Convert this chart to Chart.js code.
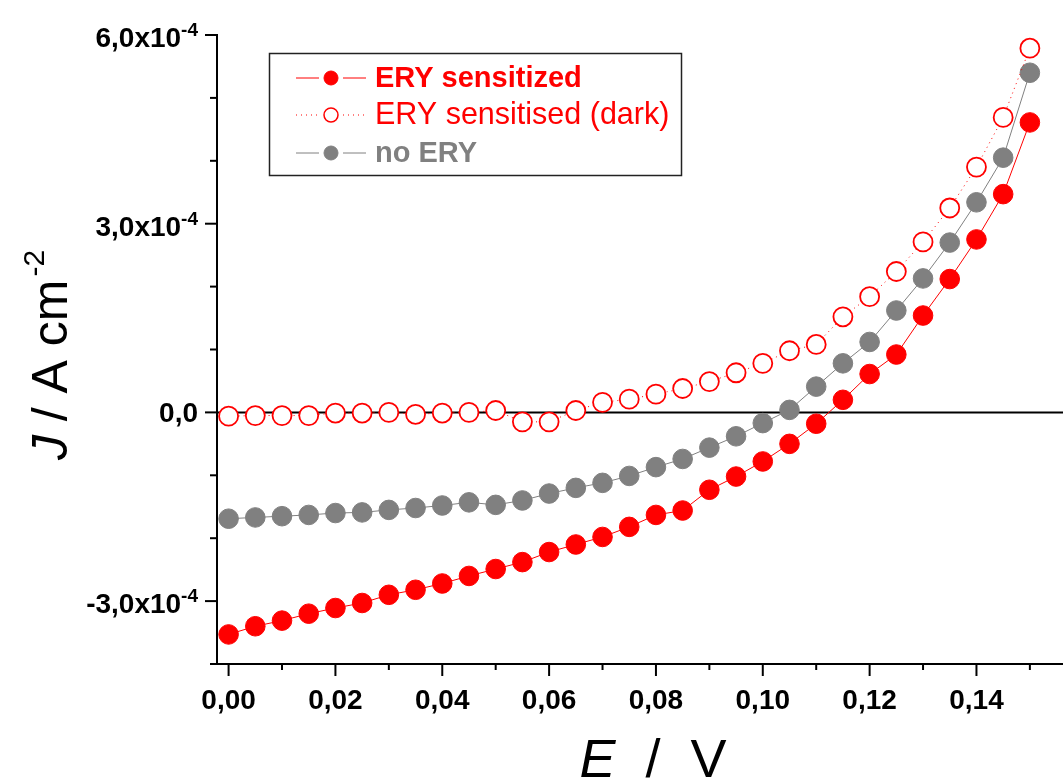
<!DOCTYPE html>
<html>
<head>
<meta charset="utf-8">
<script src="https://cdn.jsdelivr.net/npm/chart.js@4.4.0/dist/chart.umd.min.js"></script>
<style>
    html, body { margin: 0; padding: 0; background: #fff; }
    #wrap { width: 1063px; height: 779px; }
</style>
</head>
<body>
<div id="wrap"><canvas id="jvChart" width="1063" height="779"></canvas></div>
<script>
// E / V
const potentials = [
    0.000, 0.005, 0.010, 0.015, 0.020, 0.025, 0.030, 0.035, 0.040, 0.045,
    0.050, 0.055, 0.060, 0.065, 0.070, 0.075, 0.080, 0.085, 0.090, 0.095,
    0.100, 0.105, 0.110, 0.115, 0.120, 0.125, 0.130, 0.135, 0.140, 0.145, 0.150,
];

// J in units of 1e-4 A cm^-2
const sensitized = [
    -3.53, -3.40, -3.31, -3.20, -3.11, -3.03, -2.90, -2.82, -2.72, -2.60,
    -2.49, -2.38, -2.22, -2.10, -1.98, -1.82, -1.63, -1.56, -1.23, -1.02,
    -0.78, -0.50, -0.18, 0.20, 0.61, 0.92, 1.54, 2.12, 2.75, 3.47, 4.61,
];
const sensitisedDark = [
    -0.06, -0.05, -0.05, -0.05, -0.01, -0.01, 0.00, -0.03, -0.01, 0.00,
    0.03, -0.15, -0.15, 0.03, 0.16, 0.21, 0.29, 0.38, 0.49, 0.63,
    0.78, 0.98, 1.08, 1.52, 1.84, 2.24, 2.71, 3.25, 3.90, 4.69, 5.79,
];
const noEry = [
    -1.69, -1.67, -1.65, -1.63, -1.60, -1.59, -1.55, -1.52, -1.48, -1.43,
    -1.47, -1.40, -1.29, -1.20, -1.12, -1.01, -0.87, -0.74, -0.56, -0.38,
    -0.17, 0.04, 0.41, 0.78, 1.12, 1.62, 2.13, 2.70, 3.34, 4.05, 5.40,
];

const seriesLabels = ['ERY sensitized', 'ERY sensitised (dark)', 'no ERY'];

const xMajorTicks = [0.00, 0.02, 0.04, 0.06, 0.08, 0.10, 0.12, 0.14];
const xMinorTicks = [0.01, 0.03, 0.05, 0.07, 0.09, 0.11, 0.13, 0.15];
const yMajorTicks = [-3, 0, 3, 6];
const yMinorTicks = [-4, -2, -1, 1, 2, 4, 5];

const RED = '#ff0000';
const GRAY = '#808080';
const FONT = '"Liberation Sans", Arial, sans-serif';

function toPoints(values) {
    return values.map((v, i) => ({ x: potentials[i], y: v }));
}

// draws a run of text pieces (italic / superscript) one after another
function drawRich(ctx, parts, x, y, align) {
    let total = 0;
    parts.forEach((p) => {
        ctx.font = p.font;
        p.w = ctx.measureText(p.text).width;
        total += p.w + (p.gap || 0);
    });
    let cx = x;
    if (align === 'right') cx = x - total;
    if (align === 'center') cx = x - total / 2;
    ctx.textAlign = 'left';
    ctx.textBaseline = 'alphabetic';
    parts.forEach((p) => {
        cx += p.gap || 0;
        ctx.font = p.font;
        ctx.fillText(p.text, cx, y + (p.dy || 0));
        cx += p.w;
    });
}

function formatY(v) {
    const main = v.toFixed(1).replace('.', ',');
    if (v === 0) return [{ text: main, font: `bold 28px ${FONT}` }];
    return [
        { text: main + 'x10', font: `bold 28px ${FONT}` },
        { text: '-4', font: `bold 19px ${FONT}`, dy: -11 },
    ];
}

const zeroLine = {
    id: 'zeroLine',
    beforeDatasetsDraw(chart) {
        const { ctx, chartArea, scales } = chart;
        const py = scales.y.getPixelForValue(0);
        ctx.save();
        ctx.strokeStyle = '#000';
        ctx.lineWidth = 2;
        ctx.beginPath();
        ctx.moveTo(chartArea.left, py);
        ctx.lineTo(chartArea.right, py);
        ctx.stroke();
        ctx.restore();
    },
};

const axisDecor = {
    id: 'axisDecor',
    afterDraw(chart) {
        const { ctx, chartArea, scales } = chart;
        const xs = scales.x;
        const ys = scales.y;
        ctx.save();
        ctx.strokeStyle = '#000';
        ctx.fillStyle = '#000';
        ctx.lineWidth = 2;

        // tick marks
        const tick = (x1, y1, x2, y2) => {
            ctx.beginPath();
            ctx.moveTo(x1, y1);
            ctx.lineTo(x2, y2);
            ctx.stroke();
        };
        yMajorTicks.forEach((v) => {
            const py = ys.getPixelForValue(v);
            tick(chartArea.left - 12, py, chartArea.left, py);
        });
        yMinorTicks.forEach((v) => {
            const py = ys.getPixelForValue(v);
            tick(chartArea.left - 7, py, chartArea.left, py);
        });
        xMajorTicks.forEach((v) => {
            const px = xs.getPixelForValue(v);
            tick(px, chartArea.bottom, px, chartArea.bottom + 12);
        });
        xMinorTicks.forEach((v) => {
            const px = xs.getPixelForValue(v);
            tick(px, chartArea.bottom, px, chartArea.bottom + 6);
        });

        // tick labels
        yMajorTicks.forEach((v) => {
            const py = ys.getPixelForValue(v);
            const parts = formatY(v);
            drawRich(ctx, parts, 198, py + (parts.length > 1 ? 12 : 10), 'right');
        });
        xMajorTicks.forEach((v) => {
            const px = xs.getPixelForValue(v);
            drawRich(ctx, [{ text: v.toFixed(2).replace('.', ','), font: `bold 28px ${FONT}` }],
                px, chartArea.bottom + 45, 'center');
        });

        // axis titles
        drawRich(ctx, [
            { text: 'E', font: `italic 54px ${FONT}` },
            { text: '  /  V', font: `54px ${FONT}` },
        ], (chartArea.left + chartArea.right) / 2 + 13, 777, 'center');

        ctx.save();
        ctx.translate(67, 355);
        ctx.rotate(-Math.PI / 2);
        drawRich(ctx, [
            { text: 'J', font: `italic 50px ${FONT}` },
            { text: ' / A cm', font: `50px ${FONT}` },
            { text: '-2', font: `30px ${FONT}`, dy: -23, gap: 3 },
        ], 0, 0, 'center');
        ctx.restore();

        // legend
        const boxX = 269.5, boxY = 53.5, boxW = 412, boxH = 122;
        ctx.lineWidth = 1.5;
        ctx.strokeStyle = '#222';
        ctx.strokeRect(boxX, boxY, boxW, boxH);

        const rows = [
            { y: 78, color: RED, fill: RED, dash: [], weight: 'bold ', size: 29 },
            { y: 115, color: RED, fill: '#fff', dash: [1, 4], weight: '', size: 30.5 },
            { y: 153, color: GRAY, fill: GRAY, dash: [], weight: 'bold ', size: 29 },
        ];
        rows.forEach((r, i) => {
            ctx.strokeStyle = r.color;
            ctx.lineWidth = 1;
            ctx.setLineDash(r.dash);
            ctx.beginPath();
            ctx.moveTo(296, r.y); ctx.lineTo(319, r.y);
            ctx.moveTo(343, r.y); ctx.lineTo(366, r.y);
            ctx.stroke();
            ctx.setLineDash([]);
            ctx.beginPath();
            ctx.arc(331, r.y, 7, 0, Math.PI * 2);
            ctx.fillStyle = r.fill;
            ctx.fill();
            ctx.lineWidth = i === 1 ? 1.5 : 1;
            ctx.stroke();
            ctx.fillStyle = r.color;
            ctx.font = `${r.weight}${r.size}px ${FONT}`;
            ctx.textAlign = 'left';
            ctx.textBaseline = 'middle';
            ctx.fillText(seriesLabels[i], 375, r.y + 1);
        });
        ctx.restore();
    },
};

new Chart(document.getElementById('jvChart'), {
    type: 'scatter',
    data: {
        datasets: [
            {
                label: seriesLabels[0],
                data: toPoints(sensitized),
                showLine: true,
                borderColor: RED,
                borderWidth: 1,
                pointRadius: 9.8,
                pointBackgroundColor: RED,
                pointBorderColor: RED,
                pointBorderWidth: 1,
            },
            {
                label: seriesLabels[1],
                data: toPoints(sensitisedDark),
                showLine: true,
                borderColor: RED,
                borderWidth: 1,
                borderDash: [1, 4],
                pointRadius: 9.5,
                pointBackgroundColor: '#fff',
                pointBorderColor: RED,
                pointBorderWidth: 1.8,
            },
            {
                label: seriesLabels[2],
                data: toPoints(noEry),
                showLine: true,
                borderColor: GRAY,
                borderWidth: 1,
                pointRadius: 9.8,
                pointBackgroundColor: GRAY,
                pointBorderColor: GRAY,
                pointBorderWidth: 1,
            },
        ],
    },
    options: {
        responsive: false,
        animation: false,
        events: [],
        layout: { autoPadding: false, padding: { left: 217, top: 35, right: 0, bottom: 115 } },
        plugins: {
            legend: { display: false },
            tooltip: { enabled: false },
        },
        scales: {
            x: {
                type: 'linear',
                min: -0.00217,
                max: 0.1562,
                ticks: { display: false },
                grid: { display: false, drawTicks: false },
                border: { display: true, color: '#000', width: 2 },
            },
            y: {
                type: 'linear',
                min: -4,
                max: 6,
                ticks: { display: false },
                grid: { display: false, drawTicks: false },
                border: { display: true, color: '#000', width: 2 },
            },
        },
    },
    plugins: [zeroLine, axisDecor],
});
</script>
</body>
</html>
